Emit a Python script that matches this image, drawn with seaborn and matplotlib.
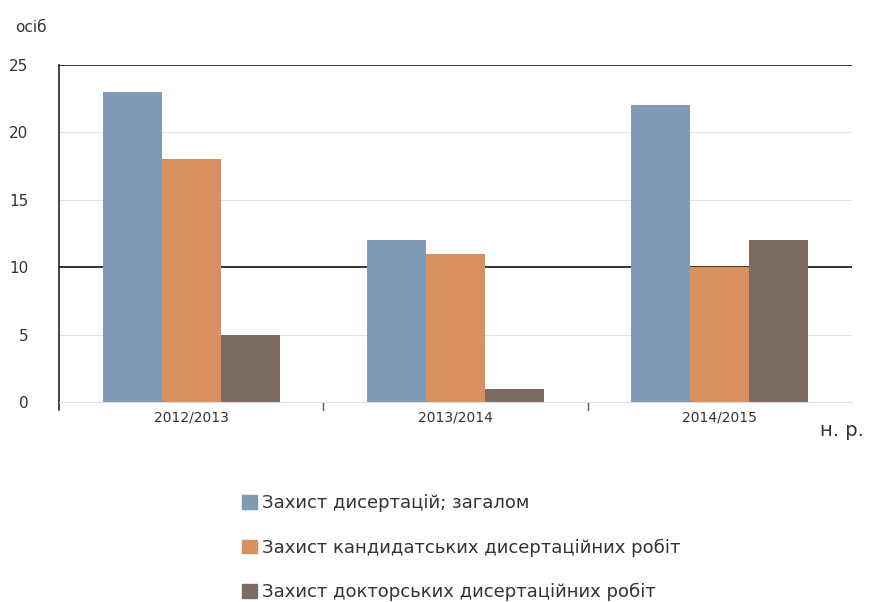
import numpy as np
import pandas as pd
import seaborn as sns
import matplotlib
matplotlib.use("Agg")
import matplotlib.pyplot as plt

sns.set_style("white")
plt.rcParams['font.family'] = ['DejaVu Sans']

years = ["2012/2013", "2013/2014", "2014/2015"]
series = ["Захист дисертацій; загалом",
          "Захист кандидатських дисертаційних робіт",
          "Захист докторських дисертаційних робіт"]
total = [23, 12, 22]
candidate = [18, 11, 10]
doctor = [5, 1, 12]
colors = ["#7f9bb6", "#d9905e", "#7b6b62"]

df = pd.DataFrame({
    "year": years * 3,
    "series": [series[0]] * 3 + [series[1]] * 3 + [series[2]] * 3,
    "value": total + candidate + doctor,
})

fig = plt.figure(figsize=(8.69, 6.02), dpi=100)
ax = fig.add_axes([59 / 869, 1 - 402 / 602, 793 / 869, 337 / 602])

sns.barplot(data=df, x="year", y="value", hue="series", palette=colors,
            width=0.67, saturation=1, ax=ax, legend=False, linewidth=0)

ax.set_ylim(0, 25)
ax.set_xlim(-0.5, 2.5)
ax.set_yticks([0, 5, 10, 15, 20, 25])
ax.set_yticklabels(["0", "5", "10", "15", "20", "25"], fontsize=11, color="#333333")
ax.tick_params(axis="y", length=0, pad=22)
ax.tick_params(axis="x", length=0, pad=6, labelsize=10, labelcolor="#333333")
ax.set_xlabel("")
ax.set_ylabel("")

# grid lines: light at 5,15,20; black at 10,25
for v in [5, 15, 20]:
    ax.axhline(v, color="#e3e3e3", lw=0.8, zorder=0)
for v in [10, 25]:
    ax.axhline(v, color="#111111", lw=1.2, zorder=0)

for s in ["top", "right"]:
    ax.spines[s].set_visible(False)
ax.spines["left"].set_color("#222222")
ax.spines["left"].set_linewidth(1.2)
ax.spines["bottom"].set_color("#dddddd")
ax.spines["bottom"].set_linewidth(0.8)

# category separator ticks
for xb in [0.5, 1.5]:
    ax.plot([xb, xb], [0, -0.6], color="#555555", lw=1, clip_on=False)
ax.plot([-0.5, -0.5], [0, -0.6], color="#222222", lw=1.2, clip_on=False)

fig.text(15 / 869, 1 - 28 / 602, "осіб", fontsize=11, color="#333333", va="center")
fig.text(820 / 869, 1 - 430 / 602, "н. р.", fontsize=14, color="#333333", va="center")

handles = [plt.Rectangle((0, 0), 1, 1, color=c) for c in colors]
fig.legend(handles, series, loc="upper left", bbox_to_anchor=(226 / 869, 1 - 478 / 602),
           frameon=False, fontsize=13, labelspacing=1.45, handlelength=0.8,
           handleheight=0.8, handletextpad=0.3, labelcolor="#333333")

fig.savefig("out.png", dpi=100)
